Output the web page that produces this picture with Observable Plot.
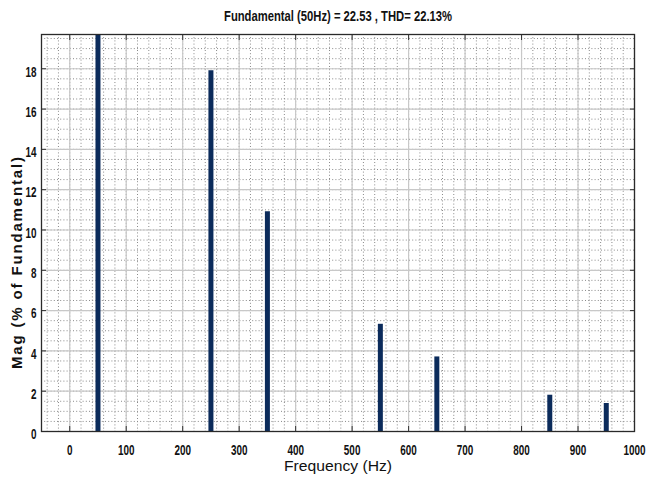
<!DOCTYPE html>
<html>
<head>
<meta charset="utf-8">
<script src="https://cdn.jsdelivr.net/npm/d3@7"></script>
<script src="https://cdn.jsdelivr.net/npm/@observablehq/plot@0.6"></script>
<style>
  html, body { margin: 0; padding: 0; background: #fff; }
  #chart svg { display: block; }
</style>
</head>
<body>
<div id="chart"></div>
<script>
// Harmonic frequencies (Hz) and magnitudes (% of fundamental)
const freqs = [50, 250, 350, 550, 650, 850, 950];
const mags  = [100, 17.9, 10.9, 5.32, 3.7, 1.8, 1.39];
const xTicks = [0, 100, 200, 300, 400, 500, 600, 700, 800, 900, 1000];
const yTicks = [0, 2, 4, 6, 8, 10, 12, 14, 16, 18];
const xMinor = d3.range(-40, 1000, 20);
const yMinor = d3.range(0.5, 19.7, 0.5);
const titleText = "Fundamental (50Hz) = 22.53 , THD= 22.13%";
const xLabel = "Frequency (Hz)";
const yLabel = "Mag (% of Fundamental)";

const data = freqs.map((f, i) => ({f, mag: mags[i]}));
const sans = "'Liberation Sans', Arial, sans-serif";

const plot = Plot.plot({
  width: 646,
  height: 486,
  marginLeft: 41,
  marginRight: 12,
  marginTop: 34,
  marginBottom: 55,
  style: {fontFamily: sans, fontSize: "15px", fontWeight: "bold", color: "#111", background: "#fff"},
  x: {domain: [-50, 1000]},
  y: {domain: [0, 19.7]},
  marks: [
    Plot.ruleX(xMinor, {stroke: "#8a8a8a", strokeWidth: 1, strokeDasharray: "1,2.2"}),
    Plot.ruleY(yMinor, {stroke: "#8a8a8a", strokeWidth: 1, strokeDasharray: "1,2.2"}),
    Plot.ruleX(xTicks, {stroke: "#c8c8c8", strokeWidth: 1.2}),
    Plot.ruleY(yTicks, {stroke: "#c8c8c8", strokeWidth: 1.2}),
    Plot.ruleX(data, {x: "f", y1: 0, y2: "mag", stroke: "#0b2b5b", strokeWidth: 5, clip: true}),
    Plot.axisX(xTicks, {anchor: "bottom", tickSize: -5, tickPadding: 18, tickFormat: d => String(d), stroke: "#333", fontSize: 15, fontWeight: "bold", label: null}),
    Plot.axisX(xTicks, {anchor: "top", tickSize: -5, tickFormat: () => "", stroke: "#333", label: null}),
    Plot.axisY(yTicks, {anchor: "left", tickSize: -5, tickFormat: () => "", stroke: "#333", label: null}),
    Plot.axisY(yTicks, {anchor: "left", tickSize: 0, tickPadding: 5, dy: 3, tickFormat: d => String(d), fontSize: 15, fontWeight: "bold", label: null}),
    Plot.axisY(yTicks, {anchor: "right", tickSize: -5, tickFormat: () => "", stroke: "#333", label: null}),
    Plot.frame({stroke: "#2a2a2a", strokeWidth: 1.3}),
    Plot.text([titleText], {frameAnchor: "top", dy: -24, fontSize: 15, fontWeight: "bold", fill: "#111"}),
    Plot.text([xLabel], {frameAnchor: "bottom", dy: 39, fontSize: 14, fontWeight: "normal", fill: "#111"}),
    Plot.text([yLabel], {frameAnchor: "left", textAnchor: "middle", dx: -24, dy: 30, rotate: -90, fontSize: 15, fontWeight: "bold", fill: "#111"})
  ]
});
document.getElementById("chart").appendChild(plot);

// Condense texts to mimic the narrow font of the reference
const svg = d3.select(plot);
svg.selectAll('g[aria-label="x-axis tick label"] text, g[aria-label="y-axis tick label"] text').each(function() {
  const len = this.getComputedTextLength();
  if (len > 0) {
    this.setAttribute("textLength", (len * 0.66).toFixed(2));
    this.setAttribute("lengthAdjust", "spacingAndGlyphs");
  }
});
svg.selectAll("text").each(function() {
  const t = this.textContent;
  if (t === titleText) { this.setAttribute("textLength", 228); this.setAttribute("lengthAdjust", "spacingAndGlyphs"); }
  else if (t === xLabel) { this.setAttribute("textLength", 108); this.setAttribute("lengthAdjust", "spacingAndGlyphs"); }
  else if (t === yLabel) { this.setAttribute("textLength", 212); this.setAttribute("lengthAdjust", "spacing"); }
});
</script>
</body>
</html>
